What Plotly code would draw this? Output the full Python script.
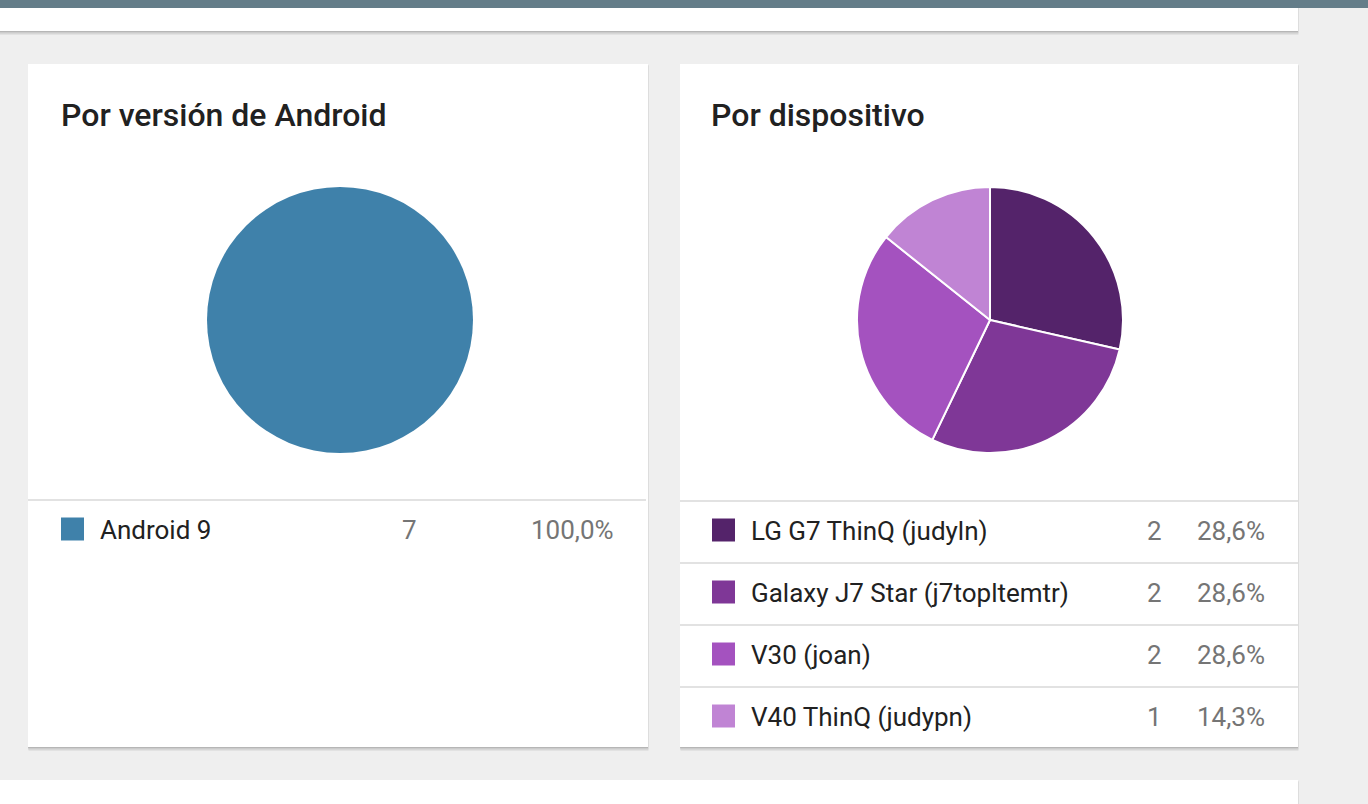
import plotly.graph_objects as go

# ---------------- data ----------------
android_title = "Por versión de Android"
android_labels = ["Android 9"]
android_counts = [7]
android_colors = ["#3f81aa"]

device_title = "Por dispositivo"
device_labels = ["LG G7 ThinQ (judyln)", "Galaxy J7 Star (j7topltemtr)", "V30 (joan)", "V40 ThinQ (judypn)"]
device_counts = [2, 2, 2, 1]
device_colors = ["#54236a", "#7f3797", "#a452bf", "#c084d4"]

# ---------------- helpers ----------------
W, H = 1368, 804
FONT = "Roboto"


def px(x):
    return x / W


def py(y):
    return 1 - y / H


def rect(x0, y0, x1, y1, fill, layer="below"):
    return dict(type="rect", xref="paper", yref="paper",
                x0=px(x0), x1=px(x1), y0=py(y1), y1=py(y0),
                fillcolor=fill, line=dict(width=0), layer=layer)


def pct(v, total):
    return f"{100.0 * v / total:.1f}".replace(".", ",") + "%"


shapes = []
annotations = []


def card(x0, y0, x1, y1):
    # soft shadow
    shapes.append(rect(x0 + 0.5, y0 + 2, x1 + 0.5, y1 + 4, "rgba(0,0,0,0.05)"))
    shapes.append(rect(x0, y0 + 1, x1 + 0.5, y1 + 2.5, "rgba(0,0,0,0.10)"))
    shapes.append(rect(x0, y0, x1, y1 + 1, "rgba(0,0,0,0.10)"))
    shapes.append(rect(x0, y0, x1, y1, "#ffffff"))


# page chrome
card(-5, 0, 1298, 31)
shapes.append(rect(0, 0, W, 8, "#647d89"))
card(28, 64, 648, 747)
card(680, 64, 1298, 747)
card(-5, 780, 1298, 830)

# ---------------- titles ----------------
for x, t in [(62, android_title), (712, device_title)]:
    annotations.append(dict(xref="paper", yref="paper", x=px(x - 3), y=py(115),
                            xanchor="left", yanchor="middle", showarrow=False, text=t,
                            font=dict(family=FONT, size=32, color="#212121", weight=500)))


# ---------------- legend tables ----------------
def table(labels, counts, colors, card_x0, card_x1, sq_x, count_x, pct_x, first_line_y, row_h):
    total = sum(counts)
    for i, (lab, c, col) in enumerate(zip(labels, counts, colors)):
        line_y = first_line_y + i * row_h
        shapes.append(dict(type="line", xref="paper", yref="paper",
                           x0=px(card_x0), x1=px(card_x1), y0=py(line_y), y1=py(line_y),
                           line=dict(color="#e2e2e2", width=2), layer="above"))
        cy = line_y + 29.5
        shapes.append(rect(sq_x, cy - 12, sq_x + 23, cy + 11, col, layer="above"))
        annotations.append(dict(xref="paper", yref="paper", x=px(sq_x + 37), y=py(cy + 0.5),
                                xanchor="left", yanchor="middle", showarrow=False, text=lab,
                                font=dict(family=FONT, size=26, color="#212121")))
        annotations.append(dict(xref="paper", yref="paper", x=px(count_x), y=py(cy + 0.5),
                                xanchor="center", yanchor="middle", showarrow=False, text=str(c),
                                font=dict(family=FONT, size=26, color="#757575")))
        annotations.append(dict(xref="paper", yref="paper", x=px(pct_x), y=py(cy + 0.5),
                                xanchor="right", yanchor="middle", showarrow=False, text=pct(c, total),
                                font=dict(family=FONT, size=26, color="#757575")))


table(android_labels, android_counts, android_colors, 28, 646, 61, 409, 616, 500, 62)
table(device_labels, device_counts, device_colors, 680, 1298, 712, 1154, 1267, 501, 62)

# ---------------- pies ----------------
fig = go.Figure()
fig.add_trace(go.Pie(labels=android_labels, values=android_counts, sort=False,
                     direction="clockwise", rotation=0, textinfo="none",
                     marker=dict(colors=android_colors, line=dict(color="white", width=0)),
                     domain=dict(x=[px(207), px(473)], y=[py(453), py(187)]),
                     showlegend=False))
fig.add_trace(go.Pie(labels=device_labels, values=device_counts, sort=False,
                     direction="clockwise", rotation=0, textinfo="none",
                     marker=dict(colors=device_colors, line=dict(color="white", width=2)),
                     domain=dict(x=[px(857), px(1123)], y=[py(453), py(187)]),
                     showlegend=False))

fig.update_layout(width=W, height=H, margin=dict(l=0, r=0, t=0, b=0, pad=0),
                  paper_bgcolor="#efefef", plot_bgcolor="#efefef",
                  shapes=shapes, annotations=annotations, showlegend=False,
                  font=dict(family=FONT))

fig.write_html("out.html", config={"displayModeBar": False},
               post_script="document.body.style.margin='0';document.body.style.overflow='hidden';")
